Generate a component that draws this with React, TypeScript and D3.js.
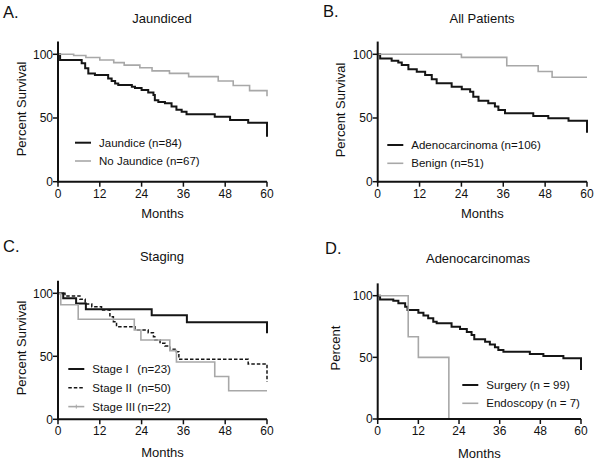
import React from 'react';
import * as d3 from 'd3';

const xTicks = [0, 12, 24, 36, 48, 60];
const yTicks = [0, 50, 100];

// Panel A
const jaundiceT = [0, 0.6, 6.8, 7.8, 8.7, 10.6, 14.4, 15.4, 16.4, 17.3, 21.2, 22.1, 24, 25.9, 27.4, 27.8, 28.8, 30.7, 32.6, 34, 35.5, 36.9, 45, 49.4, 54.6, 60];
const jaundiceS = [100, 95.5, 93, 89, 85, 83.7, 81, 79, 77, 76, 74.6, 73.5, 72, 70, 68, 64, 62.5, 61.5, 59, 56.5, 55, 53, 51, 48.4, 46.3, 35.3];
const noJaundiceT = [0, 4.5, 8, 12, 16, 19, 23.5, 27, 32, 37.5, 46, 50.3, 55, 60];
const noJaundiceS = [100, 99, 97.5, 95.5, 93.5, 91.5, 89.5, 87, 85, 82.5, 79, 75.5, 71.5, 67];

// Panel B
const adenoT = [0, 0.7, 4, 5.9, 6.9, 8.8, 11.2, 13.6, 15.5, 16.9, 21.2, 24.1, 26.5, 27.4, 28.9, 31.7, 33.6, 34.6, 36.5, 44.6, 48.9, 54.7, 60];
const adenoS = [100, 96.8, 95, 93.5, 91.6, 88.2, 86.4, 83.8, 80.5, 77.2, 74.6, 72.5, 70.6, 66.7, 63.6, 61.5, 59, 56.3, 53.7, 51.6, 49.8, 47.9, 38.5];
const benignT = [0, 24, 37, 46, 50, 60];
const benignS = [100, 97.6, 91, 86.5, 82, 82];

// Panel C
const stage1T = [0, 1.5, 5.2, 8, 26.9, 37, 60];
const stage1S = [100, 96, 92, 87.3, 82.5, 77, 68.3];
const stage2T = [0, 2, 6.3, 7.8, 9.7, 12.5, 14.9, 15.9, 16.8, 22.1, 25.9, 27.4, 27.8, 29.3, 30.7, 32.1, 33.6, 34.7, 54.6, 60];
const stage2S = [100, 97.8, 95.2, 91.5, 89.4, 86.8, 81.4, 77.5, 73.5, 70.9, 68.7, 65.5, 62.9, 60.3, 58.2, 55.5, 53.7, 47.6, 43.9, 29.8];
const stage3T = [0, 0.8, 5.8, 21.9, 23.8, 32.1, 34, 45, 49, 60];
const stage3S = [100, 90.9, 79.4, 70.9, 62.9, 54.5, 45.5, 34, 22.7, 22.7];

// Panel D
const surgeryT = [0, 0.7, 4.6, 6.1, 8.1, 8.8, 12, 13.5, 14.9, 16.4, 17.4, 21.8, 24.3, 26.3, 27.7, 28.5, 31.7, 33.1, 34.6, 35.6, 37.1, 44.9, 48.9, 54.8, 60];
const surgeryS = [100, 97, 96, 93.8, 91.1, 88.4, 86.2, 84, 81.7, 78.9, 77.6, 74.9, 73, 70.5, 68.1, 64.6, 62.7, 60.5, 58.2, 56, 54.6, 52.7, 51.1, 49.2, 39.7];
const endoT = [0, 9, 12, 21];
const endoS = [100, 66.7, 50, 0];

const BLACK = '#151515';
const GRAY = '#a8a8a8';
const FONT = 'Liberation Sans, Arial, sans-serif';

type Series = { t: number[]; s: number[]; color: string; width: number; dash?: string; label: string; n?: string; tick?: boolean };

type PanelProps = {
  letter: string; letterX: number; letterY: number;
  title: string; titleX: number; titleY: number;
  x0: number; x1: number; yb: number; ppu: number;
  ylabel: string; ylabelX: number; ylabelY: number;
  monthsY: number;
  legendX: number; legendY: number; legendGap: number; nX?: number;
  series: Series[];
};

function Panel(p: PanelProps) {
  const xs = d3.scaleLinear().domain([0, 60]).range([p.x0, p.x1]);
  const ys = d3.scaleLinear().domain([0, 110]).range([p.yb, p.yb - 110 * p.ppu]);
  const line = d3.line<[number, number]>().x(d => xs(d[0])).y(d => ys(d[1])).curve(d3.curveStepAfter);
  return (
    <g fontFamily={FONT}>
      <text x={p.letterX} y={p.letterY} fontSize={16.5} fill="#111">{p.letter}</text>
      <text x={p.titleX} y={p.titleY} fontSize={13} textAnchor="middle" fill="#111">{p.title}</text>
      {p.series.map((s, i) => (
        <path key={i} d={line(s.t.map((t, j) => [t, s.s[j]] as [number, number])) || ''} fill="none" stroke={s.color} strokeWidth={s.width} strokeDasharray={s.dash} />
      ))}
      <line x1={xs(0)} x2={xs(60)} y1={ys(0)} y2={ys(0)} stroke="#111" strokeWidth={2} />
      <line x1={xs(0)} x2={xs(0)} y1={ys(0) + 1} y2={ys(110)} stroke="#111" strokeWidth={2} />
      {xTicks.map(t => (
        <g key={'x' + t}>
          <line x1={xs(t)} x2={xs(t)} y1={ys(0)} y2={ys(0) + 5} stroke="#111" strokeWidth={1.5} />
          <text x={xs(t)} y={ys(0) + 16} fontSize={12} textAnchor="middle" fill="#111">{t}</text>
        </g>
      ))}
      {yTicks.map(t => (
        <g key={'y' + t}>
          <line x1={xs(0) - 5} x2={xs(0)} y1={ys(t)} y2={ys(t)} stroke="#111" strokeWidth={1.5} />
          <text x={xs(0) - 5} y={ys(t) + 4.3} fontSize={12} textAnchor="end" fill="#111">{t}</text>
        </g>
      ))}
      <text x={(p.x0 + p.x1) / 2} y={p.monthsY} fontSize={13} textAnchor="middle" fill="#111">Months</text>
      <text transform={`translate(${p.ylabelX},${p.ylabelY}) rotate(-90)`} fontSize={13} textAnchor="middle" fill="#111">{p.ylabel}</text>
      {p.series.map((s, i) => {
        const ly = p.legendY + i * p.legendGap;
        return (
          <g key={'l' + i}>
            <line x1={p.legendX} x2={p.legendX + 16} y1={ly} y2={ly} stroke={s.color} strokeWidth={s.width} strokeDasharray={s.dash} />
            {s.tick && <line x1={p.legendX + 8} x2={p.legendX + 8} y1={ly - 2} y2={ly + 2} stroke={s.color} strokeWidth={1} />}
            <text x={p.legendX + 24} y={ly + 4} fontSize={11.5} fill="#111">{s.label}</text>
            {s.n && p.nX !== undefined && <text x={p.nX} y={ly + 4} fontSize={11.5} fill="#111">{s.n}</text>}
          </g>
        );
      })}
    </g>
  );
}

export default function App() {
  return (
    <svg width={600} height={465} style={{ position: 'absolute', left: 0, top: 0, background: '#fff' }}>
      <rect width={600} height={465} fill="#fff" />
      <Panel letter="A." letterX={3} letterY={18} title="Jaundiced" titleX={162} titleY={23}
        x0={58} x1={267} yb={181.7} ppu={1.274} ylabel="Percent Survival" ylabelX={26} ylabelY={109} monthsY={218}
        legendX={75} legendY={142.7} legendGap={18.3}
        series={[
          { t: jaundiceT, s: jaundiceS, color: BLACK, width: 2, label: 'Jaundice (n=84)' },
          { t: noJaundiceT, s: noJaundiceS, color: GRAY, width: 1.6, label: 'No Jaundice (n=67)' },
        ]} />
      <Panel letter="B." letterX={323} letterY={17} title="All Patients" titleX={482} titleY={23}
        x0={377.7} x1={587} yb={181.7} ppu={1.274} ylabel="Percent Survival" ylabelX={344.5} ylabelY={110} monthsY={218}
        legendX={387.3} legendY={145} legendGap={18.3}
        series={[
          { t: adenoT, s: adenoS, color: BLACK, width: 2, label: 'Adenocarcinoma (n=106)' },
          { t: benignT, s: benignS, color: GRAY, width: 1.6, label: 'Benign (n=51)' },
        ]} />
      <Panel letter="C." letterX={3} letterY={251.5} title="Staging" titleX={162} titleY={261}
        x0={58} x1={267} yb={419.3} ppu={1.26} ylabel="Percent Survival" ylabelX={26} ylabelY={348} monthsY={456.5}
        legendX={68.3} legendY={369} legendGap={18.8} nX={137.3}
        series={[
          { t: stage1T, s: stage1S, color: BLACK, width: 2, label: 'Stage I', n: '(n=23)' },
          { t: stage2T, s: stage2S, color: BLACK, width: 1.5, dash: '3.5,2', label: 'Stage II', n: '(n=50)' },
          { t: stage3T, s: stage3S, color: GRAY, width: 1.6, label: 'Stage III', n: '(n=22)', tick: true },
        ]} />
      <Panel letter="D." letterX={325} letterY={254} title="Adenocarcinomas" titleX={478} titleY={263}
        x0={377.7} x1={581} yb={419} ppu={1.233} ylabel="Percent" ylabelX={339.5} ylabelY={348} monthsY={458}
        legendX={462.3} legendY={385} legendGap={18.3}
        series={[
          { t: surgeryT, s: surgeryS, color: BLACK, width: 2, label: 'Surgery (n = 99)' },
          { t: endoT, s: endoS, color: GRAY, width: 1.6, label: 'Endoscopy (n = 7)' },
        ]} />
    </svg>
  );
}
